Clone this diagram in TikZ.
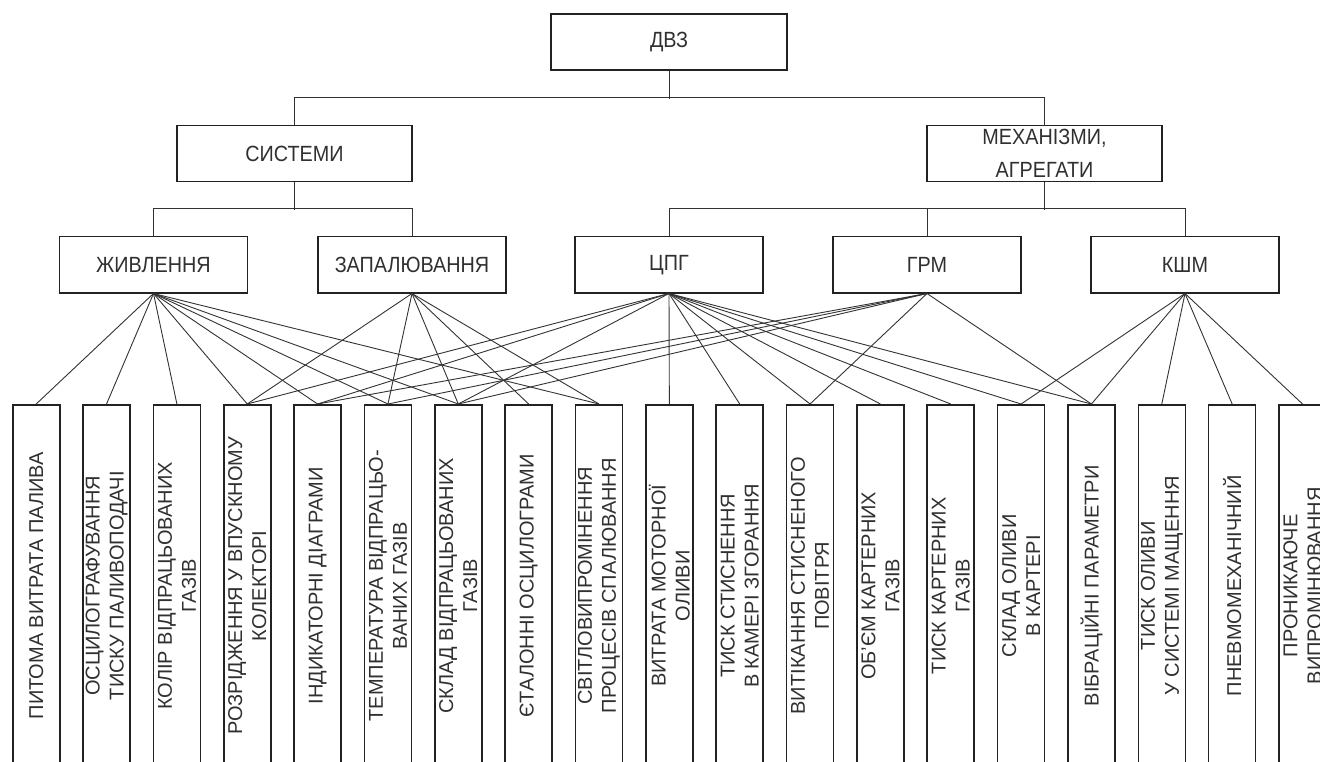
\documentclass[tikz,border=0pt]{standalone}
\usepackage{fontspec}
\setmainfont{Liberation Sans}
\newfontfamily\condfont[FakeStretch=0.9]{Liberation Sans}
\newcommand\toplabelfont{\condfont\fontsize{22}{33}\selectfont}
\newcommand\leaflabelfont{\fontsize{20}{24}\selectfont}
\definecolor{boxc}{HTML}{222222}
\definecolor{linec}{HTML}{333333}
\definecolor{textc}{HTML}{303030}
\begin{document}
\begin{tikzpicture}[x=1pt,y=-1pt,
  topbox/.style={draw=boxc, line width=1.6pt, fill=white, minimum height=56pt, inner sep=0pt, align=center, font=\toplabelfont, text=textc},
  leafbox/.style={draw=boxc, line width=1.6pt, fill=white, rotate=90, anchor=east, minimum width=362pt, minimum height=47pt, inner sep=0pt, align=center, font=\leaflabelfont, text=textc},
  link/.style={draw=linec, line width=0.9pt}]
\clip (0,0) rectangle (1320,762);
\fill[white] (0,0) rectangle (1320,762);

% top levels
\node[topbox, minimum width=236pt] (dvz) at (669,42) {ДВЗ};
\node[topbox, minimum width=235pt] (sys) at (294.5,153.7) {СИСТЕМИ};
\node[topbox, minimum width=235pt] (mech) at (1044.5,153.7) {МЕХАНІЗМИ,\\АГРЕГАТИ};

\node[topbox, minimum width=188pt] (zh)   at (153.5,264.7) {ЖИВЛЕННЯ};
\node[topbox, minimum width=188pt] (zap)  at (412,264.7)   {ЗАПАЛЮВАННЯ};
\node[topbox, minimum width=188pt] (cpg)  at (669,264.7)   {ЦПГ};
\node[topbox, minimum width=188pt] (grm)  at (927,264.7)   {ГРМ};
\node[topbox, minimum width=188pt] (kshm) at (1185,264.7)  {КШМ};

% leaves
\node[leafbox] (l0)  at (36.2,404)   {ПИТОМА ВИТРАТА ПАЛИВА};
\node[leafbox] (l1)  at (106.55,404) {ОСЦИЛОГРАФУВАННЯ\\ТИСКУ ПАЛИВОПОДАЧІ};
\node[leafbox] (l2)  at (176.9,404)  {КОЛІР ВІДПРАЦЬОВАНИХ\\ГАЗІВ};
\node[leafbox] (l3)  at (247.25,404) {РОЗРІДЖЕННЯ У ВПУСКНОМУ\\КОЛЕКТОРІ};
\node[leafbox] (l4)  at (317.6,404)  {ІНДИКАТОРНІ ДІАГРАМИ};
\node[leafbox] (l5)  at (387.95,404) {ТЕМПЕРАТУРА ВІДПРАЦЬО-\\ВАНИХ ГАЗІВ};
\node[leafbox] (l6)  at (458.3,404)  {СКЛАД ВІДПРАЦЬОВАНИХ\\ГАЗІВ};
\node[leafbox] (l7)  at (528.65,404) {ЄТАЛОННІ ОСЦИЛОГРАМИ};
\node[leafbox] (l8)  at (599,404)    {СВІТЛОВИПРОМІНЕННЯ\\ПРОЦЕСІВ СПАЛЮВАННЯ};
\node[leafbox] (l9)  at (669.35,404) {ВИТРАТА МОТОРНОЇ\\ОЛИВИ};
\node[leafbox] (l10) at (739.7,404)  {ТИСК СТИСНЕННЯ\\В КАМЕРІ ЗГОРАННЯ};
\node[leafbox] (l11) at (810.05,404) {ВИТІКАННЯ СТИСНЕНОГО\\ПОВІТРЯ};
\node[leafbox] (l12) at (880.4,404)  {ОБ'ЄМ КАРТЕРНИХ\\ГАЗІВ};
\node[leafbox] (l13) at (950.75,404) {ТИСК КАРТЕРНИХ\\ГАЗІВ};
\node[leafbox] (l14) at (1021.1,404) {СКЛАД ОЛИВИ\\В КАРТЕРІ};
\node[leafbox] (l15) at (1091.45,404){ВІБРАЦІЙНІ ПАРАМЕТРИ};
\node[leafbox] (l16) at (1161.8,404) {ТИСК ОЛИВИ\\У СИСТЕМІ МАЩЕННЯ};
\node[leafbox] (l17) at (1232.15,404){ПНЕВМОМЕХАНІЧНИЙ};
\node[leafbox] (l18) at (1302.5,404) {ПРОНИКАЮЧЕ\\ВИПРОМІНЮВАННЯ};

% tree connectors
\draw[link] (dvz.south) -- ++(0,28);
\draw[link] (sys.north) -- ++(0,-27.7) -| (mech.north);
\draw[link] (sys.south) -- ++(0,27.6);
\draw[link] (zh.north) -- ++(0,-27.4) -| (zap.north);
\draw[link] (mech.south) -- ++(0,27.6);
\draw[link] (cpg.north) -- ++(0,-27.4) -| (kshm.north);
\draw[link] (grm.north) -- ++(0,-27.4);

% ЖИВЛЕННЯ
\foreach \k in {0,1,2,3,4,5,6,8} \draw[link] (zh.south) -- (l\k.east);
% ЗАПАЛЮВАННЯ
\foreach \k in {3,5,6,7,8} \draw[link] (zap.south) -- (l\k.east);
% ЦПГ
\foreach \k in {3,4,6,9,10,11,12,13,14,15} \draw[link] (cpg.south) -- (l\k.east);
% ГРМ
\foreach \k in {4,5,6,11,15} \draw[link] (grm.south) -- (l\k.east);
% КШМ
\foreach \k in {14,15,16,17,18} \draw[link] (kshm.south) -- (l\k.east);
\end{tikzpicture}
\end{document}
